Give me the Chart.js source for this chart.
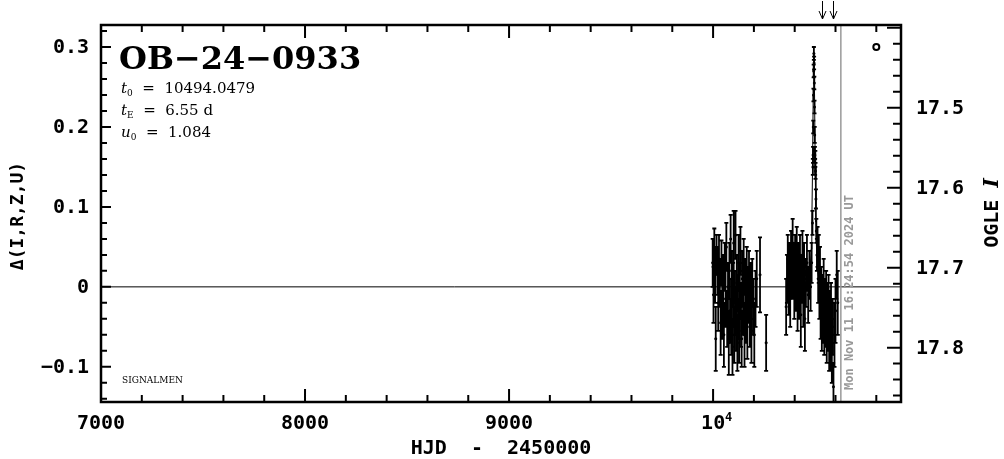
<!DOCTYPE html>
<html>
<head>
<meta charset="utf-8">
<script src="https://cdn.jsdelivr.net/npm/chart.js@4.4.1/dist/chart.umd.min.js"></script>
<style>
  html, body { margin: 0; padding: 0; background: #fff; }
  canvas { display: block; }
</style>
</head>
<body>
<canvas id="lightCurve" width="1004" height="459"></canvas>
<script>
// OGLE I photometry, HJD - 2450000, delta mag and error
var hjd = [
  9998, 10002, 10006, 10010, 10013, 10017, 10021, 10025, 10029, 10033,
  10037, 10041, 10045, 10049, 10053, 10057, 10061, 10065, 10069, 10073,
  10077, 10080, 10083, 10086, 10089, 10092, 10095, 10098, 10101, 10104,
  10107, 10110, 10113, 10116, 10119, 10122, 10125, 10128, 10131, 10134,
  10137, 10140, 10143, 10147, 10150, 10154, 10157, 10161, 10165, 10168,
  10172, 10176, 10180, 10184, 10188, 10192, 10197, 10202, 10208, 10214,
  10230, 10260,
  10358, 10362, 10366, 10370, 10374, 10378, 10382, 10386, 10390, 10394,
  10398, 10402, 10406, 10410, 10414, 10418, 10422, 10426, 10430, 10434,
  10438, 10442, 10446, 10450, 10455, 10460, 10466, 10472, 10478, 10483,
  10487, 10489, 10490, 10491, 10492, 10493, 10494, 10495, 10496, 10497,
  10498, 10499, 10500, 10501, 10502, 10504, 10506, 10509,
  10512, 10515, 10518, 10521, 10524, 10527, 10530, 10533, 10536, 10539,
  10542, 10545, 10548, 10551, 10554, 10557, 10560, 10563, 10566, 10569,
  10572, 10575, 10578, 10582, 10586, 10590, 10595, 10600, 10606, 10611
];
var delta = [
  0.030, -0.010, 0.045, 0.015, -0.065, 0.040, 0.020, -0.020, 0.035, 0.005,
  -0.045, 0.030, -0.030, 0.010, -0.060, 0.025, -0.015, 0.050, -0.040, 0.000,
  -0.070, 0.020, -0.030, 0.060, -0.050, 0.010, -0.075, -0.010, 0.055, -0.060,
  -0.020, 0.065, -0.040, 0.005, -0.070, -0.025, 0.030, -0.055, -0.005, 0.045,
  -0.035, -0.065, 0.010, -0.020, 0.025, -0.060, 0.000, -0.030, 0.020, -0.050,
  -0.010, 0.015, -0.035, -0.005, -0.055, 0.005, -0.025, -0.060, -0.015, 0.010,
  0.015, -0.070,
  -0.025, 0.010, 0.035, 0.000, 0.025, -0.015, 0.040, 0.015, 0.055, 0.020,
  -0.010, 0.035, 0.005, 0.045, -0.020, 0.025, -0.005, 0.030, -0.035, 0.010,
  0.040, -0.015, 0.020, -0.040, 0.005, 0.030, -0.010, 0.015, 0.000, 0.030,
  0.080, 0.150, 0.165, 0.200, 0.240, 0.270, 0.292, 0.280, 0.255, 0.225,
  0.190, 0.165, 0.150, 0.160, 0.145, 0.110, 0.070, 0.040,
  0.050, 0.010, 0.035, -0.010, 0.020, -0.030, -0.005, -0.045, -0.015, -0.035,
  0.005, -0.050, -0.020, -0.040, -0.010, -0.060, -0.030, -0.050, -0.020, -0.070,
  -0.040, -0.065, -0.030, -0.080, -0.050, -0.125, -0.060, -0.030, 0.015, -0.020
];
var deltaErr = [
  0.030, 0.035, 0.028, 0.035, 0.040, 0.025, 0.030, 0.035, 0.030, 0.030,
  0.040, 0.028, 0.035, 0.030, 0.040, 0.030, 0.035, 0.030, 0.035, 0.030,
  0.040, 0.035, 0.040, 0.030, 0.035, 0.035, 0.035, 0.040, 0.040, 0.035,
  0.040, 0.030, 0.040, 0.035, 0.035, 0.040, 0.035, 0.040, 0.035, 0.030,
  0.040, 0.035, 0.035, 0.040, 0.035, 0.040, 0.035, 0.040, 0.030, 0.040,
  0.035, 0.030, 0.040, 0.035, 0.040, 0.030, 0.035, 0.040, 0.035, 0.035,
  0.047, 0.035,
  0.035, 0.030, 0.030, 0.035, 0.030, 0.035, 0.030, 0.030, 0.030, 0.035,
  0.030, 0.030, 0.035, 0.030, 0.035, 0.030, 0.035, 0.035, 0.040, 0.030,
  0.030, 0.035, 0.035, 0.040, 0.030, 0.035, 0.035, 0.030, 0.030, 0.025,
  0.015, 0.010, 0.010, 0.008, 0.008, 0.008, 0.008, 0.008, 0.008, 0.008,
  0.010, 0.010, 0.010, 0.010, 0.010, 0.012, 0.015, 0.020,
  0.025, 0.030, 0.030, 0.030, 0.030, 0.035, 0.030, 0.035, 0.030, 0.035,
  0.030, 0.035, 0.030, 0.035, 0.030, 0.035, 0.035, 0.030, 0.035, 0.035,
  0.035, 0.040, 0.035, 0.040, 0.035, 0.030, 0.040, 0.040, 0.030, 0.040
];

// PSPL model (t0 = 10494.0479, tE = 6.55 d, u0 = 1.084)
var modelHjd = [7000, 10464, 10474, 10481, 10484, 10487.5, 10490.7, 10494,
                10497.3, 10500.5, 10504, 10507, 10514, 10524, 10921];
var modelDelta = [0, 0, 0.015, 0.047, 0.081, 0.15, 0.24, 0.29,
                  0.24, 0.15, 0.081, 0.047, 0.015, 0, 0];

var xLabels = [7000, 8000, 9000, 10000];
var yLabels = [-0.1, 0, 0.1, 0.2, 0.3];
var magLabels = [17.5, 17.6, 17.7, 17.8];
var nowHjd = 10626.18;
var arrowHjd = [10534, 10588];
var symbolHjd = [10800];
var symbolDelta = [0.3];

var monoBold = '"DejaVu Sans Mono", monospace';
var serif = '"DejaVu Serif", serif';

var points = hjd.map(function (t, i) { return { x: t, y: delta[i] }; });
var model = modelHjd.map(function (t, i) { return { x: t, y: modelDelta[i] }; });
var symbol = symbolHjd.map(function (t, i) { return { x: t, y: symbolDelta[i] }; });

var errorBars = {
    id: 'errorBars',
    beforeDatasetsDraw: function (chart) {
        var ctx = chart.ctx, a = chart.chartArea;
        var xs = chart.scales.x, ys = chart.scales.y;
        ctx.save();
        ctx.beginPath();
        ctx.rect(a.left, a.top, a.right - a.left, a.bottom - a.top);
        ctx.clip();
        ctx.strokeStyle = '#000';
        ctx.lineWidth = 1.8;
        ctx.beginPath();
        for (var i = 0; i < hjd.length; i++) {
            var px = xs.getPixelForValue(hjd[i]);
            var y1 = ys.getPixelForValue(delta[i] + deltaErr[i]);
            var y2 = ys.getPixelForValue(delta[i] - deltaErr[i]);
            ctx.moveTo(px, y1); ctx.lineTo(px, y2);
            ctx.moveTo(px - 2, y1); ctx.lineTo(px + 2, y1);
            ctx.moveTo(px - 2, y2); ctx.lineTo(px + 2, y2);
        }
        ctx.stroke();
        ctx.restore();
    }
};

var axesFrame = {
    id: 'axesFrame',
    afterDraw: function (chart) {
        var ctx = chart.ctx, a = chart.chartArea;
        var xs = chart.scales.x, ys = chart.scales.y, ms = chart.scales.mag;
        var k, p, len;
        ctx.save();
        ctx.fillStyle = '#000';

        // "now" line
        ctx.strokeStyle = '#999';
        ctx.lineWidth = 1.5;
        p = xs.getPixelForValue(nowHjd);
        ctx.beginPath(); ctx.moveTo(p, a.top); ctx.lineTo(p, a.bottom); ctx.stroke();

        ctx.save();
        ctx.translate(p + 9, a.bottom - 12);
        ctx.rotate(-Math.PI / 2);
        ctx.fillStyle = '#999';
        ctx.font = 'bold 12px ' + monoBold;
        ctx.textAlign = 'left';
        ctx.textBaseline = 'middle';
        ctx.fillText('Mon Nov 11 16:24:54 2024 UT', 0, 0);
        ctx.restore();

        // frame
        ctx.strokeStyle = '#000';
        ctx.lineWidth = 2.5;
        ctx.strokeRect(a.left, a.top, a.right - a.left, a.bottom - a.top);

        // ticks
        ctx.lineWidth = 2;
        ctx.beginPath();
        for (k = 35; k <= 54; k++) {
            p = xs.getPixelForValue(k * 200);
            len = (k % 5 === 0) ? 13 : 7;
            ctx.moveTo(p, a.bottom); ctx.lineTo(p, a.bottom - len);
            ctx.moveTo(p, a.top); ctx.lineTo(p, a.top + len);
        }
        for (k = -7; k <= 16; k++) {
            p = ys.getPixelForValue(k * 0.02);
            len = (k % 5 === 0) ? 10 : 6;
            ctx.moveTo(a.left, p); ctx.lineTo(a.left + len, p);
        }
        for (k = 870; k <= 893; k++) {
            p = ms.getPixelForValue(k / 50);
            len = (k % 5 === 0) ? 14 : 8;
            ctx.moveTo(a.right, p); ctx.lineTo(a.right - len, p);
        }
        ctx.stroke();

        // tick labels
        ctx.font = 'bold 20px ' + monoBold;
        ctx.textBaseline = 'middle';
        ctx.textAlign = 'right';
        yLabels.forEach(function (v) {
            var s = v === 0 ? '0' : (v < 0 ? '\u2212' + Math.abs(v).toFixed(1) : v.toFixed(1));
            ctx.fillText(s, a.left - 12, ys.getPixelForValue(v) + 1);
        });
        ctx.textAlign = 'left';
        magLabels.forEach(function (v) {
            ctx.fillText(v.toFixed(1), a.right + 15, ms.getPixelForValue(v) + 1);
        });
        ctx.textAlign = 'center';
        xLabels.forEach(function (v) {
            var px = xs.getPixelForValue(v);
            if (v === 10000) {
                ctx.textAlign = 'left';
                ctx.fillText('10', px - 12, a.bottom + 22);
                ctx.font = 'bold 12px ' + monoBold;
                ctx.fillText('4', px + 12, a.bottom + 16);
                ctx.font = 'bold 20px ' + monoBold;
                ctx.textAlign = 'center';
            } else {
                ctx.fillText(String(v), px, a.bottom + 22);
            }
        });

        // axis titles
        ctx.fillText('HJD  -  2450000', (a.left + a.right) / 2, 449);

        ctx.save();
        ctx.translate(18, 216);
        ctx.rotate(-Math.PI / 2);
        ctx.font = 'bold 18px ' + monoBold;
        ctx.fillText('\u0394(I,R,Z,U)', 0, 0);
        ctx.restore();

        ctx.save();
        ctx.translate(993, 213);
        ctx.rotate(-Math.PI / 2);
        ctx.textAlign = 'left';
        ctx.font = 'bold 20px ' + monoBold;
        var w1 = ctx.measureText('OGLE ').width;
        ctx.font = 'bold italic 20px ' + serif;
        var w2 = ctx.measureText('I').width;
        var x0 = -(w1 + w2) / 2;
        ctx.font = 'bold 20px ' + monoBold;
        ctx.fillText('OGLE ', x0, 0);
        ctx.font = 'bold italic 20px ' + serif;
        ctx.fillText('I', x0 + w1, 0);
        ctx.restore();

        // event name and parameters
        ctx.textAlign = 'left';
        ctx.textBaseline = 'alphabetic';
        ctx.font = 'bold 32px ' + serif;
        ctx.fillText('OB\u221224\u22120933', 119, 69);

        var params = [['0', '  =  10494.0479'], ['E', '  =  6.55 d'], ['0', '  =  1.084']];
        var names = ['t', 't', 'u'];
        params.forEach(function (row, i) {
            var y = 93 + i * 22;
            var x = 121;
            ctx.font = 'italic 15px ' + serif;
            ctx.fillText(names[i], x, y);
            x += ctx.measureText(names[i]).width;
            ctx.font = '9px ' + serif;
            ctx.fillText(row[0], x, y + 3);
            x += ctx.measureText(row[0]).width;
            ctx.font = '15px ' + serif;
            ctx.fillText(row[1], x, y);
        });

        ctx.font = '9px ' + serif;
        ctx.fillText('SIGNALMEN', 122, 383);

        // arrows above the frame
        ctx.lineWidth = 1;
        ctx.beginPath();
        arrowHjd.forEach(function (t) {
            var px = Math.round(xs.getPixelForValue(t)) + 0.5;
            ctx.moveTo(px, 1); ctx.lineTo(px, 19);
            ctx.moveTo(px - 3.5, 11); ctx.lineTo(px, 19); ctx.lineTo(px + 3.5, 11);
        });
        ctx.stroke();

        ctx.restore();
    }
};

new Chart(document.getElementById('lightCurve'), {
    type: 'scatter',
    data: {
        datasets: [
            {
                label: 'model',
                data: model,
                showLine: true,
                borderColor: '#000',
                borderWidth: 1,
                pointRadius: 0,
                tension: 0
            },
            {
                label: 'OGLE',
                data: points,
                backgroundColor: '#000',
                borderColor: '#000',
                pointRadius: 1.5,
                borderWidth: 0
            },
            {
                label: 'symbol',
                data: symbol,
                backgroundColor: '#fff',
                borderColor: '#000',
                borderWidth: 2,
                pointRadius: 3
            }
        ]
    },
    options: {
        responsive: false,
        animation: false,
        devicePixelRatio: 1,
        layout: { padding: { left: 101, right: 103, top: 25, bottom: 57 } },
        plugins: { legend: { display: false }, tooltip: { enabled: false }, title: { display: false } },
        scales: {
            x: { type: 'linear', min: 7000, max: 10921, display: false },
            y: { type: 'linear', min: -0.144, max: 0.3275, display: false },
            mag: { type: 'linear', position: 'right', min: 17.3965, max: 17.868, reverse: true, display: false }
        }
    },
    plugins: [errorBars, axesFrame]
});
</script>
</body>
</html>
